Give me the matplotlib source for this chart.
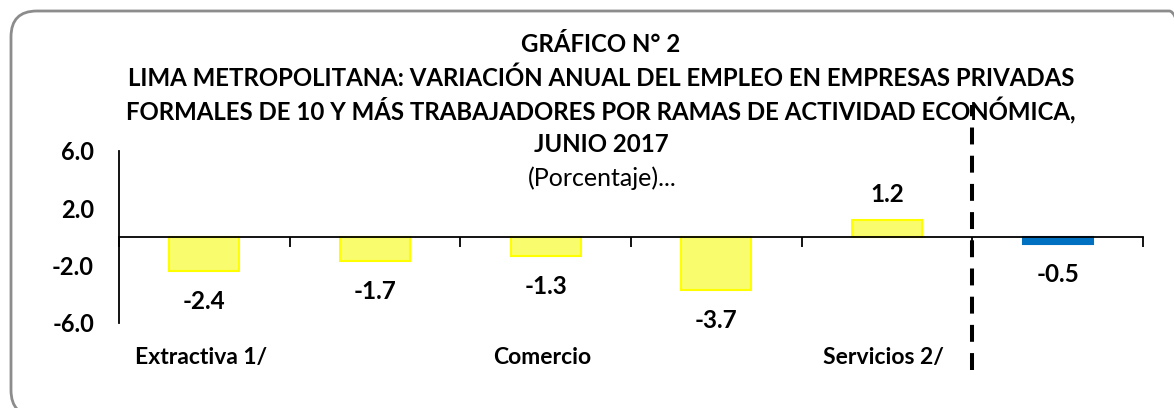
import matplotlib.pyplot as plt
import numpy as np
from matplotlib.patches import FancyBboxPatch

# Data
categories = [
    "Extractiva 1/",
    "Industria manufacturera",
    "Comercio",
    "Transporte, almacenamiento y comunicaciones",
    "Servicios 2/",
    "Total",
]
values = [-2.4, -1.7, -1.3, -3.7, 1.2, -0.5]
bar_colors = ["#F9FC6C"] * 5 + ["#0070C0"]
edge_colors = ["#FFFF00"] * 5 + ["#0070C0"]
y_ticks = [-6.0, -2.0, 2.0, 6.0]

title_lines = [
    "GRÁFICO N° 2",
    "LIMA METROPOLITANA: VARIACIÓN ANUAL DEL EMPLEO EN EMPRESAS PRIVADAS",
    "FORMALES DE 10 Y MÁS TRABAJADORES POR RAMAS DE ACTIVIDAD ECONÓMICA,",
    "JUNIO 2017",
]
subtitle = "(Porcentaje)..."

plt.rcParams["font.family"] = ["Lato", "DejaVu Sans"]

W, H = 1174, 408
fig = plt.figure(figsize=(W / 100, H / 100), dpi=100)

# rounded frame around the whole chart (runs off the right/bottom edge)
frame = FancyBboxPatch(
    (11 / W, -8 / H), (1195 - 11) / W, (397 + 8) / H,
    boxstyle="round,pad=0,rounding_size=0.022",
    transform=fig.transFigure, facecolor="none", edgecolor="#8C8C8C",
    linewidth=2, mutation_aspect=W / H, clip_on=False,
)
fig.patches.append(frame)

ax = fig.add_axes([119 / W, (H - 323) / H, (1143 - 119) / W, (323 - 151) / H])

x = np.arange(len(categories))
ax.bar(x, values, width=0.41, color=bar_colors, edgecolor=edge_colors, linewidth=1.5, zorder=2)

ax.set_xlim(-0.5, len(categories) - 0.5)
ax.set_ylim(-6, 6)

ax.spines["top"].set_visible(False)
ax.spines["right"].set_visible(False)
ax.spines["bottom"].set_position(("data", 0))
ax.spines["bottom"].set_zorder(3)
ax.spines["left"].set_linewidth(1.3)
ax.spines["bottom"].set_linewidth(1.3)

ax.set_xticks(np.arange(len(categories) + 1) - 0.5)
ax.set_xticklabels([])
ax.tick_params(axis="x", direction="out", length=7, width=1.3)

ax.set_yticks(y_ticks)
ax.set_yticklabels([f"{v:.1f}" for v in y_ticks], fontsize=17, fontweight="bold")
ax.tick_params(axis="y", length=0, pad=18)

# value labels
for xi, v in zip(x, values):
    off = 18 if v > 0 else -22
    ax.annotate(f"{v:.1f}", (xi, v), xytext=(0, off), textcoords="offset points",
                ha="center", va="center", fontsize=17.5, fontweight="bold")

# category labels (every other one, as in the reference)
for xi, name in list(zip(x, categories))[::2]:
    ax.text(xi - 0.02, -0.2, name, transform=ax.get_xaxis_transform(),
            ha="center", va="center", fontsize=16.5, fontweight="bold")

# dashed separator before the total
ax.plot([4.5, 4.5], [-9.3, 9.2], color="black", linewidth=2.9,
        dashes=(4.2, 2.8), clip_on=False, zorder=4)

# title block
ys = [45, 78, 111, 145]
for line, yy in zip(title_lines, ys):
    fig.text(601 / W, 1 - yy / H, line, ha="center", va="center",
             fontsize=17.3, fontweight="bold")
fig.text(602 / W, 1 - 178 / H, subtitle, ha="center", va="center", fontsize=18)

fig.savefig("out.png", dpi=100)
